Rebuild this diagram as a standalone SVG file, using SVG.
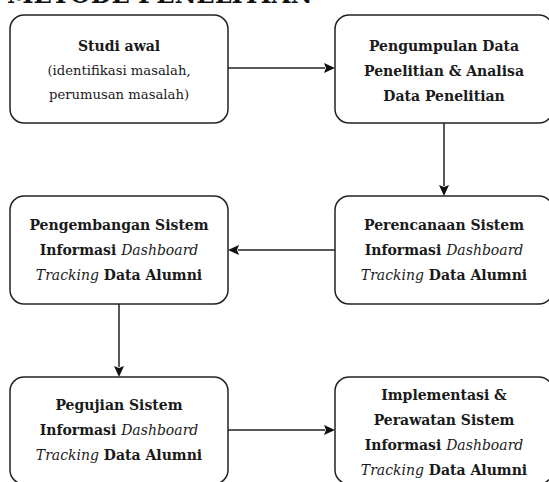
<svg xmlns="http://www.w3.org/2000/svg" width="549" height="482" viewBox="0 0 549 482">
<style>
.box{fill:#fff;stroke:#222;stroke-width:1.5}
.t{font-family:"DejaVu Serif","Liberation Serif",serif;font-size:14px;fill:#1a1a1a;text-anchor:middle}
.b{font-weight:bold}
.r{font-size:13.2px}
.i{font-style:italic;font-weight:normal}
.c{stroke:#222;stroke-width:1.5;fill:none}
.title{font-family:"DejaVu Serif","Liberation Serif",serif;font-size:24px;font-weight:bold;fill:#111}
</style>
<rect width="549" height="482" fill="#fff"/>
<text class="title" x="7" y="2.5">METODE PENELITIAN</text>
<g id="connectors">
<line class="c" x1="228" y1="68" x2="325" y2="68"/>
<path d="M324,63 L335,68 L324,73 L326,68 Z" fill="#111"/>
<line class="c" x1="444" y1="123" x2="444" y2="186"/>
<path d="M439,185 L444,196 L449,185 L444,187 Z" fill="#111"/>
<line class="c" x1="335" y1="250" x2="238" y2="250"/>
<path d="M239,245 L228,250 L239,255 L237,250 Z" fill="#111"/>
<line class="c" x1="119" y1="304" x2="119" y2="367"/>
<path d="M114,366 L119,377 L124,366 L119,368 Z" fill="#111"/>
<line class="c" x1="228" y1="430" x2="325" y2="430"/>
<path d="M324,425 L335,430 L324,435 L326,430 Z" fill="#111"/>
</g>
<g id="n1">
<rect class="box" x="10" y="15" width="218" height="108" rx="14"/>
<text class="t b" x="119" y="51">Studi awal</text>
<text class="t r" x="119" y="75">(identifikasi masalah,</text>
<text class="t r" x="119" y="99">perumusan masalah)</text>
</g>
<g id="n2">
<rect class="box" x="335" y="15" width="218" height="108" rx="14"/>
<text class="t b" x="444" y="51">Pengumpulan Data</text>
<text class="t b" x="444" y="76">Penelitian &amp; Analisa</text>
<text class="t b" x="444" y="101">Data Penelitian</text>
</g>
<g id="n3">
<rect class="box" x="335" y="196" width="218" height="108" rx="14"/>
<text class="t b" x="444" y="230">Perencanaan Sistem</text>
<text class="t b" x="444" y="255">Informasi <tspan class="i">Dashboard</tspan></text>
<text class="t b" x="444" y="280"><tspan class="i">Tracking</tspan> Data Alumni</text>
</g>
<g id="n4">
<rect class="box" x="10" y="196" width="218" height="108" rx="14"/>
<text class="t b" x="119" y="230">Pengembangan Sistem</text>
<text class="t b" x="119" y="255">Informasi <tspan class="i">Dashboard</tspan></text>
<text class="t b" x="119" y="280"><tspan class="i">Tracking</tspan> Data Alumni</text>
</g>
<g id="n5">
<rect class="box" x="10" y="377" width="218" height="107" rx="14"/>
<text class="t b" x="119" y="410">Pegujian Sistem</text>
<text class="t b" x="119" y="435">Informasi <tspan class="i">Dashboard</tspan></text>
<text class="t b" x="119" y="460"><tspan class="i">Tracking</tspan> Data Alumni</text>
</g>
<g id="n6">
<rect class="box" x="335" y="377" width="218" height="107" rx="14"/>
<text class="t b" x="444" y="400">Implementasi &amp;</text>
<text class="t b" x="444" y="425">Perawatan Sistem</text>
<text class="t b" x="444" y="450">Informasi <tspan class="i">Dashboard</tspan></text>
<text class="t b" x="444" y="475"><tspan class="i">Tracking</tspan> Data Alumni</text>
</g>
</svg>
